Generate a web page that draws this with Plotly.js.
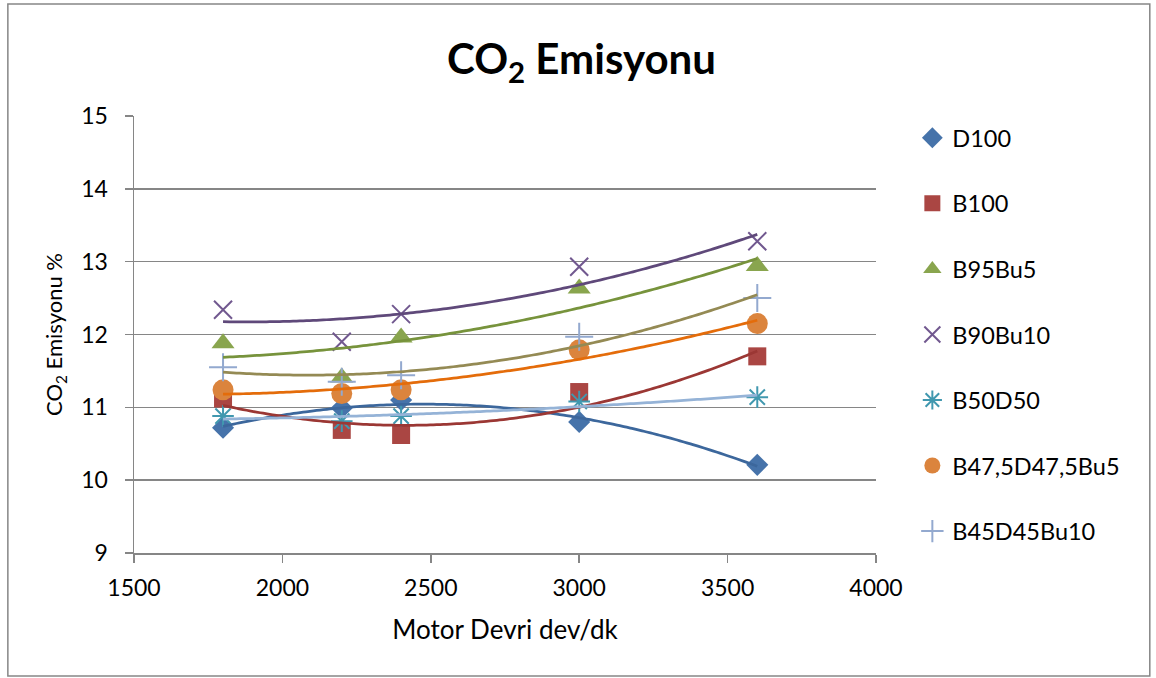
<!DOCTYPE html>
<html><head><meta charset="utf-8">
<script src="https://cdn.plot.ly/plotly-3.0.1.min.js"></script>
<style>html,body{margin:0;padding:0;background:#fff}#chart{width:1156px;height:678px}</style>
</head><body><div id="chart"></div>
<script>
// ---- data ----
const rpm = [1800, 2200, 2400, 3000, 3600];
const D100 = [10.72, 10.99, 11.10, 10.80, 10.21];
const B100 = [11.12, 10.69, 10.62, 11.21, 11.70];
const B95Bu5 = [11.88, 11.41, 11.96, 12.63, 12.94];
const B90Bu10 = [12.34, 11.90, 12.28, 12.93, 13.28];
const B50D50 = [10.88, 10.81, 10.88, 11.08, 11.14];
const B47_5D47_5Bu5 = [11.24, 11.19, 11.24, 11.79, 12.15];
const B45D45Bu10 = [11.55, 11.35, 11.44, 11.97, 12.50];
const seriesNames = ["D100", "B100", "B95Bu5", "B90Bu10", "B50D50", "B47,5D47,5Bu5", "B45D45Bu10"];
const xTicks = [1500, 2000, 2500, 3000, 3500, 4000];
const yTicks = [9, 10, 11, 12, 13, 14, 15];

// ---- styles ----
const seriesValues = [D100, B100, B95Bu5, B90Bu10, B50D50, B47_5D47_5Bu5, B45D45Bu10];
const markerStyles = [
  {symbol: "diamond", size: 17, color: "#4673AA"},
  {symbol: "square", size: 18, color: "#AA4643"},
  {symbol: "triangle-up", size: 20, color: "#89A54E"},
  {symbol: "x-thin-open", size: 18, color: "#71588F", line: {width: 2, color: "#71588F"}},
  {symbol: "asterisk-open", size: 18, color: "#4198AF", line: {width: 2, color: "#4198AF"}},
  {symbol: "circle", size: 21, color: "#DB843D"},
  {symbol: "cross-thin-open", size: 20, color: "#93A9CF", line: {width: 2, color: "#93A9CF"}}
];
const trendColors = ["#3C679C", "#9B3734", "#77933C", "#5F497A", "#95B3D7", "#E46C0A", "#948A54"];

// quadratic least-squares trendline (as Excel's polynomial order 2)
function quadFit(xs, ys) {
  const xm = xs.reduce((a, b) => a + b, 0) / xs.length;
  const u = xs.map(x => (x - xm) / 1000);
  let S = [0, 0, 0, 0, 0], T = [0, 0, 0];
  u.forEach((v, i) => {
    for (let k = 0; k < 5; k++) S[k] += Math.pow(v, k);
    for (let k = 0; k < 3; k++) T[k] += ys[i] * Math.pow(v, k);
  });
  const A = [[S[0], S[1], S[2], T[0]], [S[1], S[2], S[3], T[1]], [S[2], S[3], S[4], T[2]]];
  for (let c = 0; c < 3; c++) {
    for (let r = c + 1; r < 3; r++) {
      const f = A[r][c] / A[c][c];
      for (let k = c; k < 4; k++) A[r][k] -= f * A[c][k];
    }
  }
  const p = [0, 0, 0];
  for (let r = 2; r >= 0; r--) {
    let s = A[r][3];
    for (let k = r + 1; k < 3; k++) s -= A[r][k] * p[k];
    p[r] = s / A[r][r];
  }
  return x => { const v = (x - xm) / 1000; return p[0] + p[1] * v + p[2] * v * v; };
}

const xMin = Math.min(...rpm), xMax = Math.max(...rpm);
const trendX = [];
for (let i = 0; i <= 80; i++) trendX.push(xMin + (xMax - xMin) * i / 80);

const traces = [];
seriesNames.forEach((name, i) => {
  traces.push({
    type: "scatter", mode: "markers", name: name, x: rpm, y: seriesValues[i],
    marker: markerStyles[i], legendgroup: name, cliponaxis: false
  });
});
seriesNames.forEach((name, i) => {
  const f = quadFit(rpm, seriesValues[i]);
  traces.push({
    type: "scatter", mode: "lines", x: trendX, y: trendX.map(f),
    line: {color: trendColors[i], width: 2.75, shape: "spline"},
    showlegend: false, hoverinfo: "skip"
  });
});

const FONT = "Lato, 'Liberation Sans', Arial, sans-serif";
const layout = {
  width: 1156, height: 678,
  paper_bgcolor: "#ffffff", plot_bgcolor: "#ffffff",
  margin: {l: 134, r: 280, t: 116, b: 125},
  font: {family: FONT, color: "#000000", size: 22},
  title: {
    text: "<b>CO<sub>2</sub> Emisyonu</b>",
    font: {family: FONT, size: 42, color: "#000000"},
    x: 0.503, xref: "container", xanchor: "center",
    y: 0.912, yref: "container", yanchor: "middle"
  },
  xaxis: {
    range: [1500, 4000], tickvals: xTicks, ticktext: xTicks.map(String),
    showgrid: false, zeroline: false, showline: true, linecolor: "#868686", linewidth: 1.5,
    ticks: "outside", ticklen: 8, tickcolor: "#868686", tickwidth: 1.5,
    tickfont: {size: 23}, ticklabelstandoff: 6,
    title: {text: "Motor Devri dev/dk", font: {size: 26}, standoff: 20}
  },
  yaxis: {
    range: [9, 15], tickvals: yTicks, ticktext: yTicks.map(String),
    showgrid: true, gridcolor: "#868686", gridwidth: 1.5,
    zeroline: false, showline: true, linecolor: "#868686", linewidth: 1.5,
    ticks: "outside", ticklen: 8, tickcolor: "#868686", tickwidth: 1.5,
    tickfont: {size: 23}, ticklabelstandoff: 12,
    title: {text: "CO<sub>2</sub> Emisyonu %", font: {size: 22}, standoff: 12}
  },
  legend: {
    x: 1.049, xanchor: "left", y: 1.0, yanchor: "top",
    font: {size: 23.5}, traceorder: "grouped", tracegroupgap: 32,
    bgcolor: "rgba(0,0,0,0)", itemclick: false
  },
  shapes: [{
    type: "rect", xref: "paper", yref: "paper",
    x0: -0.170, x1: 1.369, y0: -0.2815, y1: 1.2563,
    line: {color: "#868686", width: 1.5}, fillcolor: "rgba(0,0,0,0)", layer: "below"
  }],
  showlegend: true
};

Plotly.newPlot("chart", traces, layout, {displayModeBar: false, staticPlot: true});
</script>
</body></html>
